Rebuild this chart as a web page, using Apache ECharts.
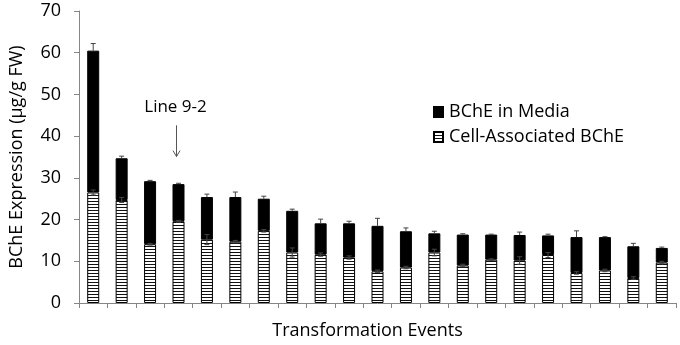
<!DOCTYPE html>
<html>
<head>
<meta charset="utf-8">
<script src="https://cdn.jsdelivr.net/npm/echarts@6/dist/echarts.min.js"></script>
<style>
html,body{margin:0;padding:0;background:#fff;}
#c{width:680px;height:345px;}
</style>
</head>
<body>
<div id="c"></div>
<script>
// Transformation events (21 lines)
const categories = ['1','2','3','4','5','6','7','8','9','10','11','12','13','14','15','16','17','18','19','20','21'];
// Cell-associated BChE (µg/g FW)
const cellAssociated = [26.5, 24.7, 14.1, 19.6, 15.2, 14.7, 17.3, 12.1, 11.6, 10.9, 7.6, 8.5, 12.1, 9.0, 10.4, 10.2, 11.5, 7.2, 7.8, 6.0, 9.7];
// BChE in media (µg/g FW)
const inMedia = [34.0, 10.0, 15.1, 8.9, 10.2, 10.7, 7.7, 10.0, 7.5, 8.2, 10.9, 8.7, 4.6, 7.4, 6.0, 6.1, 4.7, 8.6, 8.0, 7.6, 3.5];
// error of total expression
const totalErr = [1.7, 0.5, 0.2, 0.2, 0.7, 1.2, 0.6, 0.4, 1.0, 0.5, 1.8, 0.8, 0.5, 0.2, 0.1, 0.7, 0.3, 1.5, 0.1, 0.7, 0.2];
// error of cell-associated expression
const cellErr = [0.6, 0.6, 0.2, 0.2, 1.2, 0.3, 0.3, 1.1, 0.4, 0.4, 0.3, 0.3, 0.8, 0.3, 0.2, 0.9, 0.6, 0.3, 0.3, 0.3, 0.3];
// y-axis ticks
const yTicks = [0, 10, 20, 30, 40, 50, 60, 70];
// annotation
const annotation = {label: 'Line 9-2', index: 3, textValue: 47.0, arrowFrom: 42.6, arrowTo: 35.1};

const FONT = '"Open Sans", sans-serif';

// stripe pattern
const pat = document.createElement('canvas');
pat.width = 4; pat.height = 3;
const pctx = pat.getContext('2d');
pctx.fillStyle = '#fff'; pctx.fillRect(0, 0, 4, 3);
pctx.fillStyle = '#111'; pctx.fillRect(0, 0, 4, 1);

const chart = echarts.init(document.getElementById('c'), null, {renderer: 'canvas'});

const topErrData = categories.map((c, i) => [i, cellAssociated[i] + inMedia[i], totalErr[i]]);
const cellErrData = categories.map((c, i) => [i, cellAssociated[i], cellErr[i]]);

function errRender(upOnly) {
  return function (params, api) {
    const i = api.value(0), v = api.value(1), e = api.value(2);
    const pTop = api.coord([i, v + e]);
    const pBot = api.coord([i, upOnly ? v : v - e]);
    const hw = 2.5;
    const children = [
      {type: 'line', shape: {x1: pTop[0], y1: pTop[1], x2: pBot[0], y2: pBot[1]}, style: {stroke: '#444', lineWidth: 1}},
      {type: 'line', shape: {x1: pTop[0] - hw, y1: pTop[1], x2: pTop[0] + hw, y2: pTop[1]}, style: {stroke: '#444', lineWidth: 1}}
    ];
    if (!upOnly) {
      children.push({type: 'line', shape: {x1: pBot[0] - hw, y1: pBot[1], x2: pBot[0] + hw, y2: pBot[1]}, style: {stroke: '#444', lineWidth: 1}});
    }
    return {type: 'group', children};
  };
}

chart.setOption({
  animation: false,
  backgroundColor: '#fff',
  grid: {left: 77, right: 4, top: 11, bottom: 38, containLabel: false},
  legend: {
    data: ['BChE in Media', 'Cell-Associated BChE'],
    orient: 'vertical',
    left: 428, top: 98,
    itemWidth: 9, itemHeight: 10, itemGap: 7,
    icon: 'rect',
    textStyle: {fontFamily: FONT, fontSize: 18, color: '#000', padding: [0, 0, 0, 1]}
  },
  xAxis: {
    type: 'category',
    data: categories,
    name: 'Transformation Events',
    nameLocation: 'middle',
    nameGap: 19,
    nameTextStyle: {fontFamily: FONT, fontSize: 18, color: '#000', verticalAlign: 'top', padding: [0, 20, 0, 0]},
    axisLine: {lineStyle: {color: '#868686', width: 1}},
    axisTick: {show: true, interval: 0, length: 5, lineStyle: {color: '#868686'}},
    axisLabel: {show: false},
    splitLine: {show: false}
  },
  yAxis: {
    type: 'value',
    min: yTicks[0], max: yTicks[yTicks.length - 1], interval: 10,
    name: 'BChE Expression (µg/g FW)',
    nameLocation: 'middle',
    nameGap: 53,
    nameTextStyle: {fontFamily: FONT, fontSize: 18, color: '#000'},
    axisLine: {show: true, lineStyle: {color: '#868686', width: 1}},
    axisTick: {show: true, length: 5, lineStyle: {color: '#868686'}},
    axisLabel: {fontFamily: FONT, fontSize: 18, color: '#000', margin: 18},
    splitLine: {show: false}
  },
  series: [
    {
      name: 'Cell-Associated BChE', type: 'bar', stack: 'a', barWidth: 12,
      data: cellAssociated,
      itemStyle: {color: {image: pat, repeat: 'repeat'}, borderColor: '#000', borderWidth: 1}
    },
    {
      name: 'BChE in Media', type: 'bar', stack: 'a', barWidth: 12,
      data: inMedia,
      itemStyle: {color: '#000', borderColor: '#000', borderWidth: 1}
    },
    {
      name: 'errTop', type: 'custom', data: topErrData, renderItem: errRender(true), z: 5, silent: true
    },
    {
      name: 'errCell', type: 'custom', data: cellErrData, renderItem: errRender(false), z: 5, silent: true
    },
    {
      name: 'annot', type: 'custom', silent: true, z: 6,
      data: [[annotation.index, annotation.textValue, annotation.arrowFrom, annotation.arrowTo]],
      renderItem: function (params, api) {
        const i = api.value(0);
        const pt = api.coord([i, api.value(1)]);
        const pa = api.coord([i, api.value(2)]);
        const pb = api.coord([i, api.value(3)]);
        const x = pa[0] - 2;
        return {type: 'group', children: [
          {type: 'text', style: {text: annotation.label, x: pt[0] - 3, y: pt[1], align: 'center', verticalAlign: 'middle', font: '17px ' + FONT, fill: '#000'}},
          {type: 'line', shape: {x1: x, y1: pa[1], x2: x, y2: pb[1]}, style: {stroke: '#555', lineWidth: 1}},
          {type: 'polyline', shape: {points: [[x - 3.5, pb[1] - 6], [x, pb[1]], [x + 3.5, pb[1] - 6]]}, style: {stroke: '#555', lineWidth: 1, fill: null}}
        ]};
      }
    }
  ]
});
</script>
</body>
</html>
